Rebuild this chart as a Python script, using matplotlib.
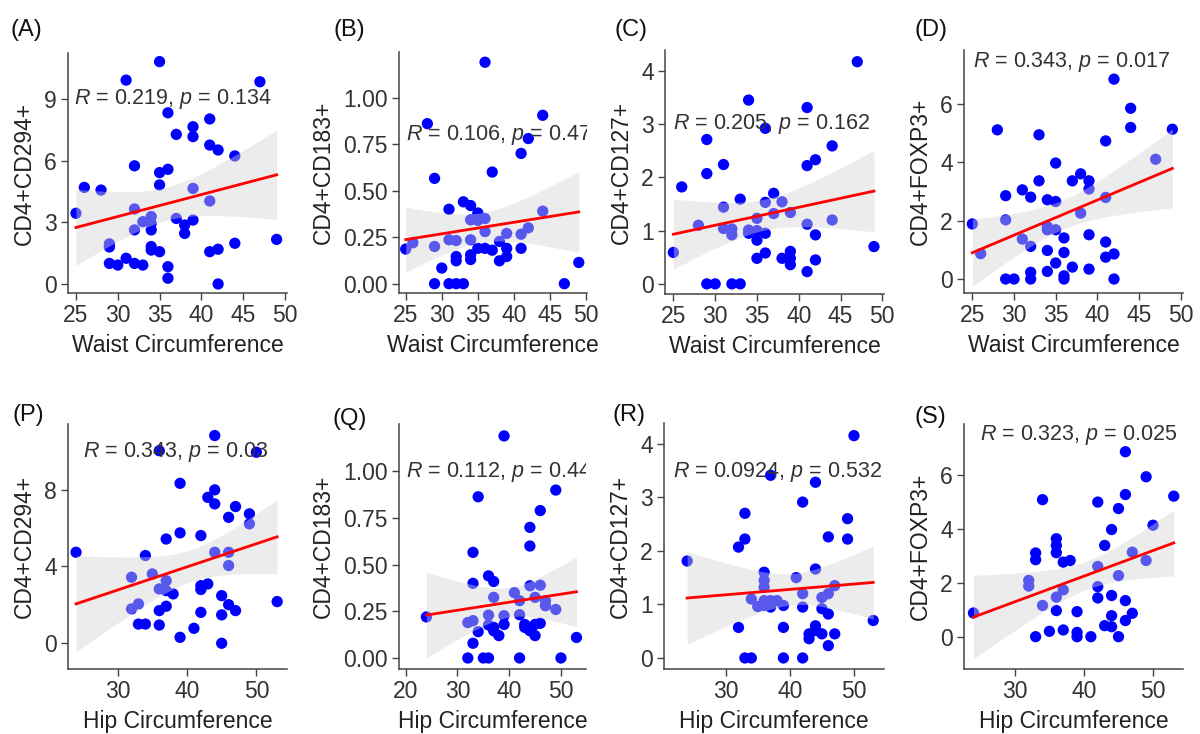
import numpy as np
import matplotlib
matplotlib.use("Agg")
import matplotlib.pyplot as plt

plt.rcParams['font.family'] = ['Liberation Sans', 'DejaVu Sans']
plt.rcParams['mathtext.fontset'] = 'custom'
plt.rcParams['mathtext.rm'] = 'Liberation Sans'
plt.rcParams['mathtext.it'] = 'Liberation Sans:italic'

# ---- data ----
a_x = [25, 26, 28, 29, 29, 29, 30, 31, 31, 32, 32, 32, 32, 33, 33, 34, 34, 34, 34, 34, 35, 35, 35, 35,
       36, 36, 36, 36, 37, 37, 38, 38, 39, 39, 39, 39, 41, 41, 41, 41, 42, 42, 42, 44, 44, 47, 49]
a_y = [3.44, 4.7, 4.57, 1.95, 1.8, 1.0, 0.92, 9.92, 1.25, 5.75, 3.65, 2.63, 1.0, 0.92, 3.03, 3.28, 2.95,
       2.63, 1.82, 1.65, 10.82, 5.42, 4.82, 1.57, 8.33, 5.58, 0.84, 0.28, 7.28, 3.19, 2.87, 2.46, 7.65,
       7.17, 4.65, 3.11, 8.03, 6.76, 4.04, 1.57, 6.52, 1.69, 0.0, 6.23, 1.98, 9.84, 2.17]

b_x = [25, 26, 28, 29, 29, 29, 30, 31, 31, 31, 32, 33, 32, 32, 32, 33, 34, 34, 34, 34, 34, 35, 35, 35,
       36, 36, 36, 36, 37, 37, 38, 38, 39, 39, 39, 41, 41, 41, 42, 42, 44, 44, 47, 49]
b_y = [0.186, 0.22, 0.86, 0.566, 0.20, 0.0, 0.084, 0.40, 0.236, 0.0, 0.0, 0.0, 0.232, 0.146, 0.123,
       0.44, 0.42, 0.236, 0.155, 0.13, 0.343, 0.38, 0.34, 0.19, 1.19, 0.35, 0.28, 0.19, 0.60, 0.18,
       0.227, 0.123, 0.27, 0.19, 0.146, 0.70, 0.266, 0.19, 0.78, 0.30, 0.905, 0.39, 0.0, 0.114]

c_x = [25, 26, 28, 29, 29, 29, 30, 31, 31, 31, 32, 32, 32, 33, 33, 34, 34, 34, 35, 35, 35, 35, 36, 36,
       36, 36, 37, 37, 38, 38, 39, 39, 39, 39, 41, 41, 41, 41, 42, 42, 42, 44, 44, 47, 49]
c_y = [0.59, 1.82, 1.10, 2.71, 2.07, 0.0, 0.0, 2.24, 1.44, 1.04, 1.03, 0.92, 0.0, 0.0, 1.59, 3.45,
       1.01, 0.95, 1.23, 1.0, 0.82, 0.48, 2.92, 1.53, 0.95, 0.58, 1.70, 1.32, 1.54, 0.48, 1.34, 0.61,
       0.48, 0.36, 3.31, 2.22, 1.12, 0.23, 2.33, 0.92, 0.45, 2.59, 1.2, 4.17, 0.70]

d_x = [25, 26, 28, 29, 29, 29, 30, 31, 31, 32, 32, 32, 32, 33, 33, 34, 34, 34, 34, 34, 35, 35, 35, 35,
       36, 36, 36, 36, 37, 37, 38, 38, 39, 39, 39, 39, 41, 41, 41, 41, 42, 42, 42, 44, 44, 47, 49]
d_y = [1.89, 0.87, 5.12, 2.86, 2.03, 0.0, 0.0, 3.06, 1.37, 2.81, 1.12, 0.23, 0.0, 4.95, 3.37, 2.72,
       1.69, 0.98, 0.26, 1.8, 3.98, 2.66, 1.69, 0.55, 1.41, 0.91, 0.11, 0.0, 3.37, 0.41, 3.61, 2.26,
       3.37, 3.09, 1.52, 0.34, 4.74, 2.80, 1.27, 0.75, 6.86, 0.86, 0.0, 5.86, 5.20, 4.11, 5.14]

p_x = [24, 32, 32, 33, 33, 34, 34, 35, 36, 36, 36, 36, 37, 37, 37, 37, 38, 39, 39, 39, 41, 42, 42, 42,
       42, 43, 43, 44, 44, 44, 44, 45, 45, 45, 46, 46, 46, 46, 47, 47, 49, 49, 50, 53]
p_y = [4.74, 3.44, 1.79, 2.05, 1.0, 4.57, 1.0, 3.61, 10.03, 2.83, 1.70, 0.95, 3.26, 5.43, 2.74, 1.93,
       2.57, 8.33, 5.75, 0.31, 0.78, 5.61, 3.0, 2.8, 1.61, 7.6, 3.09, 10.82, 7.99, 7.26, 4.74, 2.48,
       1.48, 0.0, 6.56, 4.74, 4.05, 2.01, 7.12, 1.70, 6.74, 6.22, 9.95, 2.17]

q_x = [24, 32, 33, 33, 33, 33, 32, 34, 34, 35, 36, 36, 37, 36, 36, 37, 37, 37, 38, 39, 39, 39, 41, 42,
       42, 42, 43, 43, 44, 44, 44, 44, 45, 45, 45, 46, 46, 46, 47, 47, 49, 49, 50, 53]
q_y = [0.22, 0.19, 0.20, 0.40, 0.566, 0.079, 0.0, 0.864, 0.141, 0.0, 0.0, 0.44, 0.41, 0.23, 0.177,
       0.146, 0.325, 0.164, 0.12, 1.19, 0.227, 0.18, 0.35, 0.0, 0.307, 0.232, 0.18, 0.164, 0.70, 0.60,
       0.387, 0.146, 0.12, 0.18, 0.325, 0.79, 0.39, 0.186, 0.307, 0.28, 0.26, 0.90, 0.0, 0.11]

r_x = [24, 32, 32, 33, 33, 33, 34, 34, 35, 36, 36, 36, 36, 36, 37, 37, 37, 38, 39, 39, 39, 41, 42, 42,
       42, 42, 43, 43, 44, 44, 44, 44, 45, 45, 45, 46, 46, 46, 46, 47, 47, 49, 49, 50, 53]
r_y = [1.81, 0.57, 2.07, 2.70, 2.22, 0.0, 0.0, 1.10, 0.96, 1.6, 1.45, 1.32, 1.07, 0.98, 3.41, 1.07,
       0.95, 1.07, 0.98, 0.57, 0.0, 1.5, 2.91, 1.2, 0.95, 0.0, 0.45, 0.36, 3.28, 1.66, 0.60, 0.51, 1.13,
       0.45, 0.92, 2.26, 0.82, 0.23, 1.2, 1.35, 0.45, 2.6, 2.22, 4.15, 0.70]

s_x = [24, 32, 32, 33, 33, 33, 34, 34, 35, 36, 36, 36, 36, 36, 37, 37, 37, 38, 39, 39, 39, 41, 42, 42,
       42, 42, 43, 43, 44, 44, 44, 44, 45, 45, 45, 46, 46, 46, 46, 47, 47, 49, 49, 50, 53]
s_y = [0.88, 2.09, 1.88, 0.0, 3.11, 2.86, 5.09, 1.16, 0.2, 3.64, 3.39, 3.12, 1.47, 0.97, 2.77, 1.74,
       0.25, 2.83, 0.93, 0.16, 0.0, 0.0, 5.0, 2.61, 1.86, 1.44, 3.39, 0.41, 3.98, 1.53, 0.78, 0.37,
       4.76, 2.27, 0.0, 6.87, 5.28, 1.34, 0.6, 3.14, 0.87, 5.94, 2.83, 4.14, 5.22]

panel_tags = ['(A)', '(B)', '(C)', '(D)', '(P)', '(Q)', '(R)', '(S)']
y_titles = ['CD4+CD294+', 'CD4+CD183+', 'CD4+CD127+', 'CD4+FOXP3+'] * 2
x_titles = ['Waist Circumference'] * 4 + ['Hip Circumference'] * 4
r_vals = ['0.219', '0.106', '0.205', '0.343', '0.343', '0.112', '0.0924', '0.323']
p_vals = ['0.134', '0.47', '0.162', '0.017', '0.03', '0.44', '0.532', '0.025']

xs = [a_x, b_x, c_x, d_x, p_x, q_x, r_x, s_x]
ys = [a_y, b_y, c_y, d_y, p_y, q_y, r_y, s_y]

# ---- layout (pixels of a 1200x734 canvas) ----
W, H = 1200, 734
boxes = [(68, 53, 219, 240), (399, 52, 188, 241), (665, 50, 219, 244), (964, 50, 219, 243),
         (68, 424, 219, 245), (399, 424, 187, 245), (664, 423, 220, 246), (964, 424, 219, 245)]
xlims = [(24.05, 50.24), (24.07, 50.14), (24.0, 50.2), (24.0, 50.28),
         (22.84, 54.42), (18.7, 54.84), (20.39, 54.68), (22.63, 54.34)]
ylims = [(-0.44, 11.24), (-0.05, 1.245), (-0.19, 4.39), (-0.48, 7.86),
         (-1.34, 11.42), (-0.059, 1.254), (-0.206, 4.386), (-1.2, 7.9)]
xticks = [[25, 30, 35, 40, 45, 50]] * 4 + [[30, 40, 50], [20, 30, 40, 50], [30, 40, 50], [30, 40, 50]]
yticks = [[0, 3, 6, 9], [0, 0.25, 0.5, 0.75, 1.0], [0, 1, 2, 3, 4], [0, 2, 4, 6],
          [0, 4, 8], [0, 0.25, 0.5, 0.75, 1.0], [0, 1, 2, 3, 4], [0, 2, 4, 6]]
label_pos = [(24.8, 9.0), (25.0, 0.80), (25.0, 3.0), (25.1, 7.46),
             (25.0, 9.95), (20.0, 0.995), (21.8, 3.47), (24.94, 7.49)]
tag_pos = [(10, 30), (333, 30), (615, 30), (915, 30), (12, 415), (332, 419), (613, 415), (915, 417)]

fig = plt.figure(figsize=(12, 7.34), dpi=100)
t_crit = 2.015

for i in range(8):
    l, t, w, h = boxes[i]
    ax = fig.add_axes([l / W, 1 - (t + h) / H, w / W, h / H])
    x = np.array(xs[i], dtype=float)
    y = np.array(ys[i], dtype=float)

    ax.scatter(x, y, s=66, color='#0000ff', edgecolors='none', zorder=2)

    # linear fit with 95% confidence band
    slope, intercept = np.polyfit(x, y, 1)
    xx = np.linspace(x.min(), x.max(), 80)
    yy = intercept + slope * xx
    n = len(x)
    resid = y - (intercept + slope * x)
    s_err = np.sqrt(np.sum(resid ** 2) / (n - 2))
    sxx = np.sum((x - x.mean()) ** 2)
    band = t_crit * s_err * np.sqrt(1 / n + (xx - x.mean()) ** 2 / sxx)
    ax.fill_between(xx, yy - band, yy + band, color='#d4d4d4', alpha=0.42, lw=0, zorder=3)
    ax.plot(xx, yy, color='#ff0000', lw=2, zorder=4)

    lx, ly = label_pos[i]
    ax.text(lx, ly, r'$\mathit{R}$ = ' + r_vals[i] + r', $\mathit{p}$ = ' + p_vals[i],
            fontsize=15.5, color='#333333', va='center', ha='left', clip_on=True, zorder=5)

    ax.set_xlim(*xlims[i])
    ax.set_ylim(*ylims[i])
    ax.set_xticks(xticks[i])
    ax.set_yticks(yticks[i])
    if i in (1, 5):
        ax.set_yticklabels(['%.2f' % v for v in yticks[i]])
    ax.spines['top'].set_visible(False)
    ax.spines['right'].set_visible(False)
    for sp in ('left', 'bottom'):
        ax.spines[sp].set_color('#444444')
        ax.spines[sp].set_linewidth(1.1)
    ax.tick_params(axis='both', labelsize=16.5, colors='#444444', labelcolor='#333333',
                   length=5, width=1.0, pad=3)
    ax.set_xlabel(x_titles[i], fontsize=16.5, color='#222222', labelpad=5)
    ax.set_ylabel(y_titles[i], fontsize=16.5, color='#222222', labelpad=6)

    tx, ty = tag_pos[i]
    fig.text(tx / W, 1 - ty / H, panel_tags[i], fontsize=17, color='#111111', va='center', ha='left')

fig.savefig('out.png', dpi=100)
